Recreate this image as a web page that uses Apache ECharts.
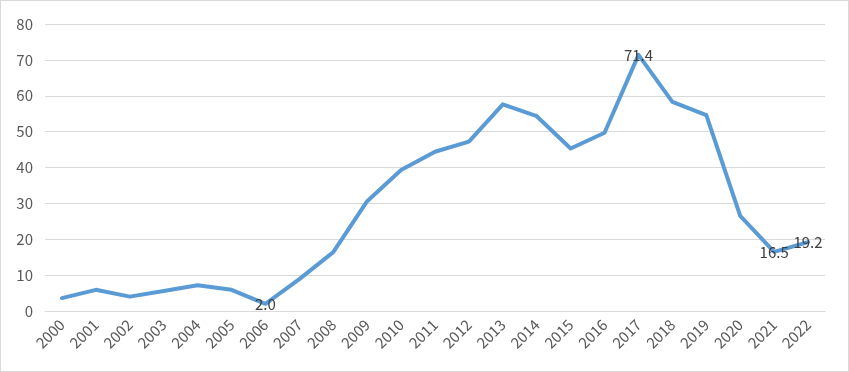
<!DOCTYPE html>
<html>
<head>
<meta charset="utf-8">
<style>
html,body{margin:0;padding:0;background:#fff;}
#c{width:849px;height:372px;box-sizing:border-box;border:1px solid #d9d9d9;}
</style>
<script src="https://cdn.jsdelivr.net/npm/echarts@6/dist/echarts.min.js"></script>
</head>
<body>
<div id="c"></div>
<script>
const years = ['2000','2001','2002','2003','2004','2005','2006','2007','2008','2009','2010','2011','2012','2013','2014','2015','2016','2017','2018','2019','2020','2021','2022'];
const values = [3.6,5.9,4.0,5.6,7.2,5.9,2.0,8.9,16.4,30.6,39.3,44.4,47.2,57.6,54.3,45.3,49.7,71.4,58.3,54.6,26.5,16.5,19.2];
const labeledYears = ['2006','2017','2021','2022'];
const yTicks = [0,10,20,30,40,50,60,70,80];

const chart = echarts.init(document.getElementById('c'), null, {renderer:'canvas'});
const font = '"Noto Sans CJK SC", "Noto Sans", sans-serif';
chart.setOption({
  animation:false,
  grid:{left:44,right:23,top:23,bottom:60},
  xAxis:{
    type:'category',
    data:years,
    boundaryGap:true,
    axisLine:{lineStyle:{color:'#d9d9d9',width:1}},
    axisTick:{show:false},
    axisLabel:{rotate:45,color:'#595959',fontSize:15,fontFamily:font,margin:11,interval:0}
  },
  yAxis:{
    type:'value',
    min:yTicks[0],max:yTicks[yTicks.length-1],interval:10,
    axisLine:{show:false},
    axisTick:{show:false},
    splitLine:{lineStyle:{color:'#d9d9d9',width:1}},
    axisLabel:{color:'#595959',fontSize:15,fontFamily:font,margin:12}
  },
  series:[{
    type:'line',
    data:values.map((v,i)=>{
      const o={value:v};
      if(labeledYears.includes(years[i])){
        o.label={show:true,position:'inside',formatter:p=>p.value.toFixed(1),color:'#404040',fontSize:15,fontFamily:font};
      }
      return o;
    }),
    symbol:'circle',
    symbolSize:1,
    showSymbol:true,
    itemStyle:{color:'rgba(0,0,0,0)'},
    lineStyle:{color:'#5b9bd5',width:4,join:'round',cap:'round'},
    label:{show:false},
    z:2
  }]
});
</script>
</body>
</html>
